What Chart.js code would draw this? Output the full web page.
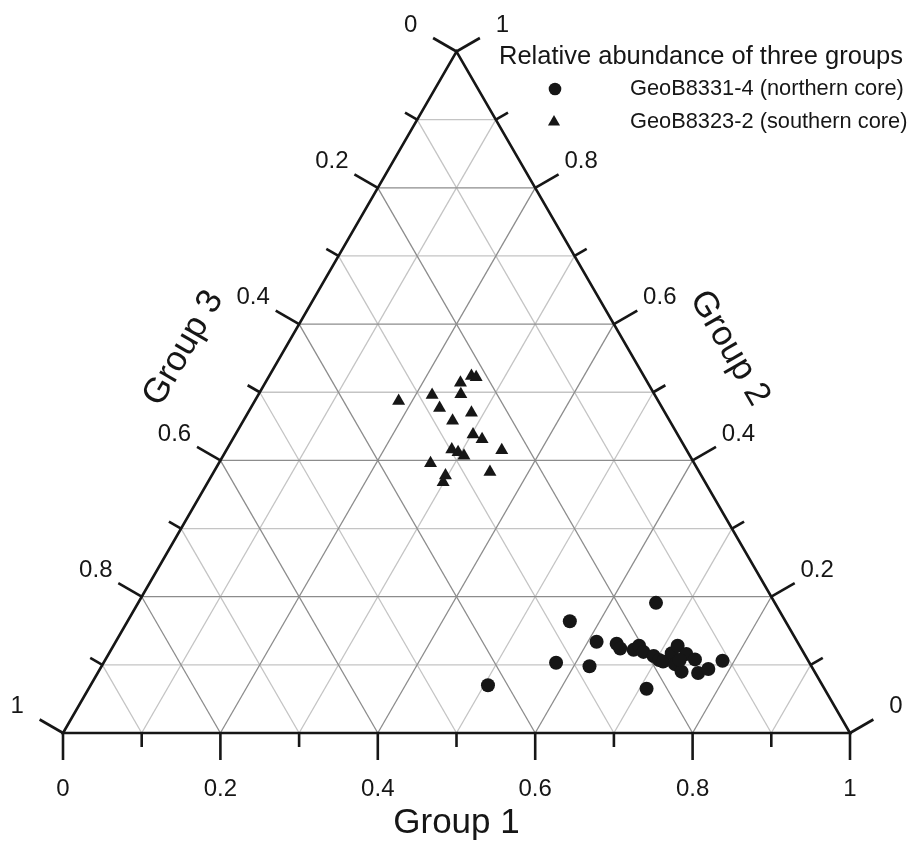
<!DOCTYPE html>
<html>
<head>
<meta charset="utf-8">
<script src="https://cdn.jsdelivr.net/npm/chart.js@4/dist/chart.umd.min.js"></script>
<style>
  html, body { margin: 0; padding: 0; background: #fff; }
  canvas { display: block; }
</style>
</head>
<body>
<canvas id="ternary" width="911" height="843"></canvas>
<script>
// Relative abundance of the three groups, one entry per sample
const northGroup1 = [0.658, 0.562, 0.611, 0.638, 0.646, 0.664, 0.668, 0.678, 0.694, 0.704, 0.710, 0.575, 0.620,
                     0.709, 0.715, 0.717, 0.727, 0.741, 0.734, 0.749, 0.763, 0.773, 0.785, 0.505, 0.730];
const northGroup2 = [0.191, 0.164, 0.134, 0.131, 0.124, 0.122, 0.128, 0.119, 0.113, 0.107, 0.105, 0.103, 0.098,
                     0.065, 0.117, 0.128, 0.101, 0.090, 0.116, 0.108, 0.088, 0.094, 0.106, 0.070, 0.107];
const northGroup3 = [0.151, 0.274, 0.255, 0.231, 0.230, 0.214, 0.204, 0.203, 0.193, 0.189, 0.185, 0.322, 0.282,
                     0.226, 0.168, 0.155, 0.172, 0.169, 0.150, 0.143, 0.149, 0.133, 0.109, 0.425, 0.163];

const southGroup1 = [0.183, 0.221, 0.240, 0.248, 0.257, 0.257, 0.264, 0.284, 0.266, 0.302, 0.317, 0.350, 0.286,
                     0.296, 0.306, 0.269, 0.351, 0.297, 0.299];
const southGroup2 = [0.487, 0.496, 0.477, 0.514, 0.497, 0.524, 0.522, 0.470, 0.458, 0.438, 0.431, 0.415, 0.416,
                     0.412, 0.407, 0.396, 0.383, 0.378, 0.368];
const southGroup3 = [0.330, 0.283, 0.283, 0.238, 0.246, 0.219, 0.214, 0.246, 0.276, 0.260, 0.252, 0.235, 0.298,
                     0.292, 0.287, 0.335, 0.266, 0.325, 0.333];

const tickValues = [0, 0.1, 0.2, 0.3, 0.4, 0.5, 0.6, 0.7, 0.8, 0.9, 1];
const tickLabels = ['0', '', '0.2', '', '0.4', '', '0.6', '', '0.8', '', '1'];
const axisTitles = ['Group 1', 'Group 2', 'Group 3'];
const seriesNames = ['GeoB8331-4 (northern core)', 'GeoB8323-2 (southern core)'];
const legendTitle = 'Relative abundance of three groups';

const SQ = Math.sqrt(3) / 2;
const FONT = '"Liberation Sans", Arial, Helvetica, sans-serif';
const INK = '#161616';

// ternary (g1, g2, g3) -> cartesian plane of the triangle
function toXY(g1, g2, g3) {
  const s = g1 + g2 + g3;
  const a = g1 / s, b = g2 / s;
  return { x: a + b / 2, y: b * SQ };
}
function points(A, B, C) {
  return A.map((v, i) => toXY(v, B[i], C[i]));
}

const framePlugin = {
  id: 'ternaryFrame',
  beforeDatasetsDraw(chart) {
    const ctx = chart.ctx;
    const xs = chart.scales.x, ys = chart.scales.y;
    const pt = (g1, g2) => [xs.getPixelForValue(g1 + g2 / 2), ys.getPixelForValue(g2 * SQ)];
    const seg = (p, q) => { ctx.beginPath(); ctx.moveTo(p[0], p[1]); ctx.lineTo(q[0], q[1]); ctx.stroke(); };

    ctx.save();
    // grid: light lines at odd tenths, darker at even tenths
    ctx.lineWidth = 1.3;
    [1, 0].forEach(par => {
      ctx.strokeStyle = par ? '#c4c4c4' : '#8c8c8c';
      for (let k = 1; k <= 9; k++) {
        if (k % 2 !== par) continue;
        const v = tickValues[k];
        seg(pt(v, 0), pt(v, 1 - v));
        seg(pt(0, v), pt(1 - v, v));
        seg(pt(1 - v, 0), pt(0, 1 - v));
      }
    });

    // frame
    ctx.strokeStyle = INK;
    ctx.lineWidth = 2.6;
    ctx.lineJoin = 'miter';
    const A = pt(0, 0), B = pt(1, 0), C = pt(0, 1);
    ctx.beginPath();
    ctx.moveTo(A[0], A[1]); ctx.lineTo(B[0], B[1]); ctx.lineTo(C[0], C[1]); ctx.closePath();
    ctx.stroke();

    // ticks and tick labels
    ctx.fillStyle = INK;
    ctx.font = '24px ' + FONT;
    ctx.textAlign = 'center';
    ctx.textBaseline = 'middle';
    ctx.lineCap = 'butt';
    const sides = [
      { at: v => pt(v, 0), dir: [0, 1], off: 56 },          // Group 1 (bottom)
      { at: v => pt(1 - v, v), dir: [SQ, -0.5], off: 53 },   // Group 2 (right)
      { at: v => pt(0, 1 - v), dir: [-SQ, -0.5], off: 53 }   // Group 3 (left)
    ];
    sides.forEach(s => {
      tickValues.forEach((v, k) => {
        const p = s.at(v);
        const len = k % 2 === 0 ? 27 : 14;
        seg(p, [p[0] + s.dir[0] * len, p[1] + s.dir[1] * len]);
        if (tickLabels[k]) {
          ctx.fillText(tickLabels[k], p[0] + s.dir[0] * s.off, p[1] + s.dir[1] * s.off);
        }
      });
    });

    // axis titles
    ctx.font = '35px ' + FONT;
    const titleAt = [
      { p: pt(0.5, 0), dir: [0, 1], rot: 0 },
      { p: pt(0.5, 0.5), dir: [SQ, -0.5], rot: Math.PI / 3 },
      { p: pt(0, 0.5), dir: [-SQ, -0.5], rot: -Math.PI / 3 }
    ];
    titleAt.forEach((t, i) => {
      const d = i === 0 ? 90 : 88;
      ctx.save();
      ctx.translate(t.p[0] + t.dir[0] * d, t.p[1] + t.dir[1] * d);
      ctx.rotate(t.rot);
      ctx.fillText(axisTitles[i], 0, 0);
      ctx.restore();
    });

    // legend
    ctx.textAlign = 'left';
    ctx.font = '25.5px ' + FONT;
    ctx.fillText(legendTitle, 499, 57);
    ctx.font = '21.8px ' + FONT;
    ctx.fillText(seriesNames[0], 630, 89);
    ctx.fillText(seriesNames[1], 630, 122);
    ctx.beginPath();
    ctx.arc(555, 89, 6.3, 0, Math.PI * 2);
    ctx.fill();
    const r = 7;
    ctx.beginPath();
    ctx.moveTo(554, 122 - r);
    ctx.lineTo(554 + r * SQ, 122 + r / 2);
    ctx.lineTo(554 - r * SQ, 122 + r / 2);
    ctx.closePath();
    ctx.fill();
    ctx.restore();
  }
};

new Chart(document.getElementById('ternary'), {
  type: 'scatter',
  data: {
    datasets: [
      {
        label: seriesNames[0],
        data: points(northGroup1, northGroup2, northGroup3),
        pointStyle: 'circle',
        pointRadius: 7,
        pointBackgroundColor: INK,
        pointBorderWidth: 0
      },
      {
        label: seriesNames[1],
        data: points(southGroup1, southGroup2, southGroup3),
        pointStyle: 'triangle',
        pointRadius: 7.5,
        pointBackgroundColor: INK,
        pointBorderWidth: 0
      }
    ]
  },
  options: {
    responsive: false,
    animation: false,
    layout: { padding: { left: 63, right: 61, top: 51.5, bottom: 110 } },
    scales: {
      x: { type: 'linear', min: 0, max: 1, display: false },
      y: { type: 'linear', min: 0, max: SQ, display: false }
    },
    plugins: {
      legend: { display: false },
      tooltip: { enabled: false }
    }
  },
  plugins: [framePlugin]
});
</script>
</body>
</html>
